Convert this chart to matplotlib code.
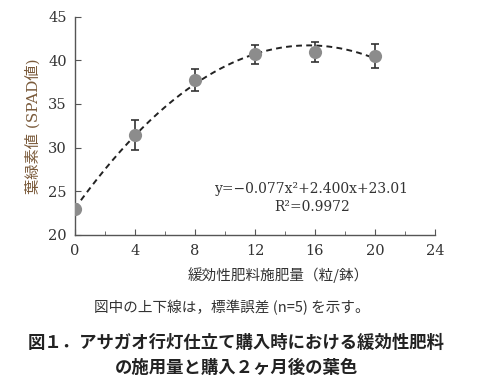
import matplotlib
matplotlib.use("Agg")
import matplotlib.pyplot as plt
import numpy as np
from matplotlib.ticker import MultipleLocator

# Data
rates = [0, 4, 8, 12, 16, 20]
spad = [22.9, 31.4, 37.7, 40.7, 41.0, 40.5]
se = [0.0, 1.7, 1.25, 1.1, 1.15, 1.4]
coef = [-0.077, 2.400, 23.01]
eq_text = "y=\u22120.077x\u00b2+2.400x+23.01"
r2_text = "R\u00b2=0.9972"
xlabel = "緩効性肥料施肥量（粒/鉢）"
ylabel = "葉緑素値 (SPAD値)"
note = "図中の上下線は，標準誤差 (n=5) を示す。"
title1 = "図１．アサガオ行灯仕立て購入時における緩効性肥料"
title2 = "の施用量と購入２ヶ月後の葉色"

serif = ["DejaVu Serif", "Noto Sans CJK JP"]
cjk = ["Noto Sans CJK JP", "DejaVu Sans"]

fig = plt.figure(figsize=(4.91, 3.84), dpi=100)
ax = fig.add_axes([0.1527, 0.3888, 0.7332, 0.5677])

xs = np.linspace(0, 20, 200)
ax.plot(xs, np.polyval(coef, xs), color="#222222", lw=1.4, ls=(0, (3, 2.2)), zorder=2)
ax.errorbar(rates, spad, yerr=se, fmt="none", ecolor="#333333", elinewidth=1.2,
            capsize=3, capthick=1.2, zorder=3)
ax.plot(rates, spad, "o", color="#8c8c8c", markersize=9.5, markeredgewidth=0, zorder=4)

ax.set_xlim(0, 24)
ax.set_ylim(20, 45)
ax.xaxis.set_major_locator(MultipleLocator(4))
ax.xaxis.set_minor_locator(MultipleLocator(2))
ax.yaxis.set_major_locator(MultipleLocator(5))
for s in ["top", "right"]:
    ax.spines[s].set_visible(False)
for s in ["left", "bottom"]:
    ax.spines[s].set_color("#555555")
    ax.spines[s].set_linewidth(1.0)
ax.tick_params(axis="both", which="both", direction="in", colors="#555555",
               labelcolor="#333333")
ax.tick_params(which="major", length=4)
ax.tick_params(which="minor", length=3)
ax.tick_params(axis="x", pad=7)
ax.tick_params(axis="y", pad=6)
for lab in ax.get_xticklabels() + ax.get_yticklabels():
    lab.set_family(serif)
    lab.set_fontsize(10.5)

ax.set_ylabel(ylabel, family=serif, fontsize=11, color="#7a5a3a", labelpad=5)
ax.text(15.8, 25.2, eq_text, family=serif, fontsize=10, color="#333333",
        ha="center", va="center")
ax.text(15.8, 23.2, r2_text, family=serif, fontsize=10, color="#333333",
        ha="center", va="center")

fig.text(278 / 491, 1 - 275 / 384, xlabel, family=cjk, fontsize=10.5,
         color="#333333", ha="center", va="center")
fig.text(232 / 491, 1 - 308 / 384, note, family=cjk, fontsize=10.5,
         color="#333333", ha="center", va="center")
fig.text(236 / 491, 1 - 343 / 384, title1, family=cjk, fontsize=12.5,
         fontweight="bold", color="#222222", ha="center", va="center")
fig.text(236 / 491, 1 - 368 / 384, title2, family=cjk, fontsize=12.5,
         fontweight="bold", color="#222222", ha="center", va="center")

fig.savefig("out.png", dpi=100)
